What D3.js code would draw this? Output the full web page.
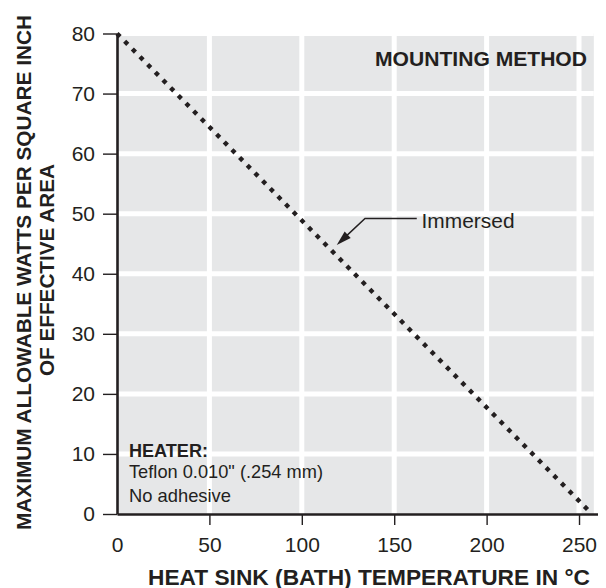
<!DOCTYPE html>
<html><head><meta charset="utf-8">
<script src="https://cdn.jsdelivr.net/npm/d3@7"></script>
<style>
html,body{margin:0;padding:0;background:#fff;}
svg{display:block;font-family:"Liberation Sans",Arial,Helvetica,sans-serif;}
</style></head>
<body><div id="chart"></div>
<script>
// ---- data ----
const lineTemps = [0, 257];          // heat sink temperature (°C)
const lineWatts = [80, 0];           // max allowable W/in²
const xTicks = [0, 50, 100, 150, 200, 250];
const yTicks = [0, 10, 20, 30, 40, 50, 60, 70, 80];
const seriesLabel = "Immersed";
const legendTitle = "MOUNTING METHOD";
const heaterLines = ["HEATER:", "Teflon 0.010\" (.254 mm)", "No adhesive"];
const xTitle = "HEAT SINK (BATH) TEMPERATURE IN °C";
const yTitleLines = ["MAXIMUM ALLOWABLE WATTS PER SQUARE INCH", "OF EFFECTIVE AREA"];

const W = 606, H = 588;
const ink = "#231f20";
const svg = d3.select("#chart").append("svg").attr("width", W).attr("height", H);

const x = d3.scaleLinear().domain([0, 260]).range([117, 597.5]);
const y = d3.scaleLinear().domain([0, 80]).range([514, 33.5]);

// plot background
svg.append("rect")
  .attr("x", x(0)).attr("y", y(80))
  .attr("width", x(258) - x(0)).attr("height", y(0) - y(80))
  .attr("fill", "#e6e7e8");

// white grid
const grid = svg.append("g").attr("stroke", "#fff").attr("stroke-width", 5);
grid.selectAll("line.gx").data(xTicks.filter(d => d > 0)).join("line")
  .attr("x1", d => x(d)).attr("x2", d => x(d)).attr("y1", y(80) - 3).attr("y2", y(0));
grid.selectAll("line.gy").data(yTicks.filter(d => d > 0)).join("line")
  .attr("y1", d => y(d)).attr("y2", d => y(d)).attr("x1", x(0)).attr("x2", x(258));

// axes
const yAxis = svg.append("g").attr("transform", `translate(${x(0)},0)`)
  .call(d3.axisLeft(y).tickValues(yTicks).tickSize(14).tickSizeOuter(0).tickPadding(8));
const xAxis = svg.append("g").attr("transform", `translate(0,${y(0)})`)
  .call(d3.axisBottom(x).tickValues(xTicks).tickSize(11).tickSizeOuter(0).tickPadding(12));
[xAxis, yAxis].forEach(a => {
  a.select(".domain").attr("stroke", ink).attr("stroke-width", 2.6);
  a.selectAll(".tick line").attr("stroke", ink).attr("stroke-width", 1.4);
  a.selectAll(".tick text").attr("fill", ink).attr("font-size", 21)
    .attr("font-family", "Liberation Sans, Arial, sans-serif");
});
xAxis.selectAll(".tick").filter(d => d === 0).select("line").remove();

// dotted series line
const pts = lineTemps.map((t, i) => [t, lineWatts[i]]);
svg.append("path")
  .datum(pts)
  .attr("d", d3.line().x(d => x(d[0])).y(d => y(d[1])))
  .attr("fill", "none").attr("stroke", ink)
  .attr("stroke-width", 4.4).attr("stroke-dasharray", "4.4 6.5");

// annotation leader + arrow
const tip = [118.9, 44.8], elbow = [134.2, 49.2], lineEnd = [162.2, 49.2];
const ann = svg.append("g");
ann.append("polyline")
  .attr("points", [lineEnd, elbow].map(p => [x(p[0]), y(p[1])].join(",")).join(" ") + " " + (() => {
    const tx = x(tip[0]), ty = y(tip[1]), ex = x(elbow[0]), ey = y(elbow[1]);
    const L = Math.hypot(ex - tx, ey - ty);
    return [tx + (ex - tx) / L * 10, ty + (ey - ty) / L * 10].join(",");
  })())
  .attr("fill", "none").attr("stroke", ink).attr("stroke-width", 1.5);
(() => {
  const tx = x(tip[0]), ty = y(tip[1]), ex = x(elbow[0]), ey = y(elbow[1]);
  const L = Math.hypot(ex - tx, ey - ty);
  const ux = (ex - tx) / L, uy = (ey - ty) / L;
  const len = 15, hw = 4.4;
  const bx = tx + ux * len, by = ty + uy * len;
  ann.append("polygon")
    .attr("points", [[tx, ty], [bx - uy * hw, by + ux * hw], [bx + uy * hw, by - ux * hw]].map(p => p.join(",")).join(" "))
    .attr("fill", ink);
})();
ann.append("text").attr("x", x(164.8)).attr("y", y(47.7) + 0)
  .attr("font-size", 21).attr("fill", ink)
  .attr("textLength", 93).attr("lengthAdjust", "spacingAndGlyphs").text(seriesLabel);

// mounting method title
svg.append("text").attr("x", 587).attr("y", 65.5).attr("text-anchor", "end")
  .attr("font-size", 21).attr("font-weight", "bold").attr("fill", ink)
  .attr("textLength", 212).attr("lengthAdjust", "spacingAndGlyphs").text(legendTitle);

// heater note
const hn = svg.append("g").attr("fill", ink);
heaterLines.forEach((t, i) => {
  const tx = hn.append("text").attr("x", 129).attr("y", [456.5, 478, 502][i])
    .attr("font-size", i === 0 ? 18 : 18.6)
    .attr("font-weight", i === 0 ? "bold" : "normal").text(t);
  const tl = [79, 194, 102][i];
  tx.attr("textLength", tl).attr("lengthAdjust", "spacingAndGlyphs");
});

// axis titles
svg.append("text").attr("x", 369).attr("y", 584.5).attr("text-anchor", "middle")
  .attr("font-size", 21.5).attr("font-weight", "bold").attr("fill", ink)
  .attr("textLength", 442).attr("lengthAdjust", "spacingAndGlyphs").text(xTitle);
yTitleLines.forEach((t, i) => {
  svg.append("text")
    .attr("transform", `translate(${[30.5, 53.5][i]},${[272.5, 270][i]}) rotate(-90)`)
    .attr("text-anchor", "middle").attr("font-size", 20.5).attr("font-weight", "bold").attr("fill", ink)
    .attr("textLength", [515, 212][i]).attr("lengthAdjust", "spacingAndGlyphs").text(t);
});
</script></body></html>
